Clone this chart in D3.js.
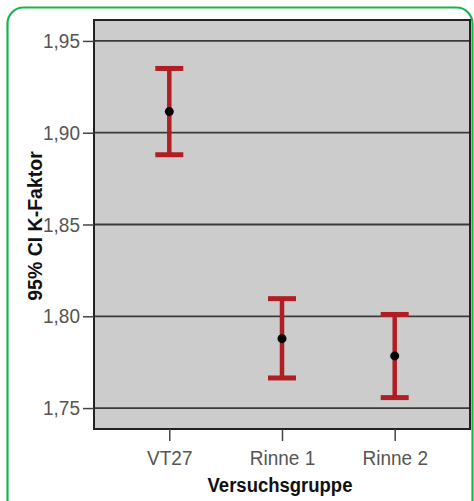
<!DOCTYPE html>
<html><head><meta charset="utf-8">
<script src="https://cdn.jsdelivr.net/npm/d3@7"></script>
<style>body{margin:0;background:#fff;} svg{display:block;}</style>
</head><body>
<script>
const categories = ["VT27", "Rinne 1", "Rinne 2"];
const means = [1.9115, 1.7878, 1.7784];
const lowers = [1.888, 1.7664, 1.7557];
const uppers = [1.935, 1.8096, 1.801];
const yTicks = [1.75, 1.80, 1.85, 1.90, 1.95];

const W = 474, H = 501;
const FONT = "Liberation Sans, Arial, sans-serif";
const svg = d3.select("body").append("svg").attr("width", W).attr("height", H);

// green rounded frame
svg.append("rect").attr("x", 7.5).attr("y", 7.5).attr("width", 465).attr("height", 510)
  .attr("rx", 16).attr("fill", "none").attr("stroke", "#1bb34a").attr("stroke-width", 2.2);

const L = 94, R = 470, T = 20, B = 429;
const y = d3.scaleLinear().domain([1.7386, 1.9614]).range([B, T]);
const x = d3.scalePoint().domain(categories).range([L, R]).padding(0.668);

svg.append("rect").attr("x", L).attr("y", T).attr("width", R - L).attr("height", B - T)
  .attr("fill", "#cccccc");

// gridlines
svg.append("g").selectAll("line").data(yTicks).join("line")
  .attr("x1", L).attr("x2", R).attr("y1", d => y(d)).attr("y2", d => y(d))
  .attr("stroke", "#3a3a3a").attr("stroke-width", 1.8);

svg.append("rect").attr("x", L).attr("y", T).attr("width", R - L).attr("height", B - T)
  .attr("fill", "none").attr("stroke", "#222").attr("stroke-width", 2);

const fmt = d => d3.format(".2f")(d).replace(".", ",");
const yAxis = svg.append("g").attr("transform", `translate(${L},0)`)
  .call(d3.axisLeft(y).tickValues(yTicks).tickFormat(fmt).tickSize(11).tickPadding(3));
yAxis.select(".domain").remove();
yAxis.selectAll(".tick line").attr("stroke", "#444").attr("stroke-width", 1.5);
yAxis.selectAll("text").attr("fill", "#555").style("font-family", FONT).style("font-size", "19px")
  .attr("transform", "scale(1,1.1)");

const xAxis = svg.append("g").attr("transform", `translate(0,${B})`)
  .call(d3.axisBottom(x).tickSize(12).tickPadding(7));
xAxis.select(".domain").remove();
xAxis.selectAll(".tick line").attr("stroke", "#444").attr("stroke-width", 1.5);
xAxis.selectAll("text").attr("fill", "#555").style("font-family", FONT).style("font-size", "19px")
  .attr("transform", "scale(1,1.1)");

// error bars
const red = "#b01e24";
const data = categories.map((c, i) => ({c, m: means[i], lo: lowers[i], hi: uppers[i]}));
const g = svg.append("g");
g.selectAll(".v").data(data).join("line")
  .attr("x1", d => x(d.c)).attr("x2", d => x(d.c))
  .attr("y1", d => y(d.hi)).attr("y2", d => y(d.lo))
  .attr("stroke", red).attr("stroke-width", 4.5);
g.selectAll(".cap").data(data.flatMap(d => [{c: d.c, v: d.hi}, {c: d.c, v: d.lo}])).join("line")
  .attr("x1", d => x(d.c) - 14).attr("x2", d => x(d.c) + 14)
  .attr("y1", d => y(d.v)).attr("y2", d => y(d.v))
  .attr("stroke", red).attr("stroke-width", 5);
g.selectAll("circle").data(data).join("circle")
  .attr("cx", d => x(d.c)).attr("cy", d => y(d.m)).attr("r", 4.5).attr("fill", "#000");

svg.append("text").attr("transform", `translate(${(L + R) / 2 - 2},492) scale(1,1.1)`)
  .attr("text-anchor", "middle")
  .style("font-family", FONT).style("font-size", "18.5px")
  .style("font-weight", "bold").attr("fill", "#111").text("Versuchsgruppe");
svg.append("text").attr("transform", `translate(42,226) rotate(-90) scale(1,1.05)`)
  .attr("text-anchor", "middle")
  .style("font-family", FONT).style("font-size", "19.5px")
  .style("font-weight", "bold").attr("fill", "#111").text("95% CI K-Faktor");
</script>
</body></html>
